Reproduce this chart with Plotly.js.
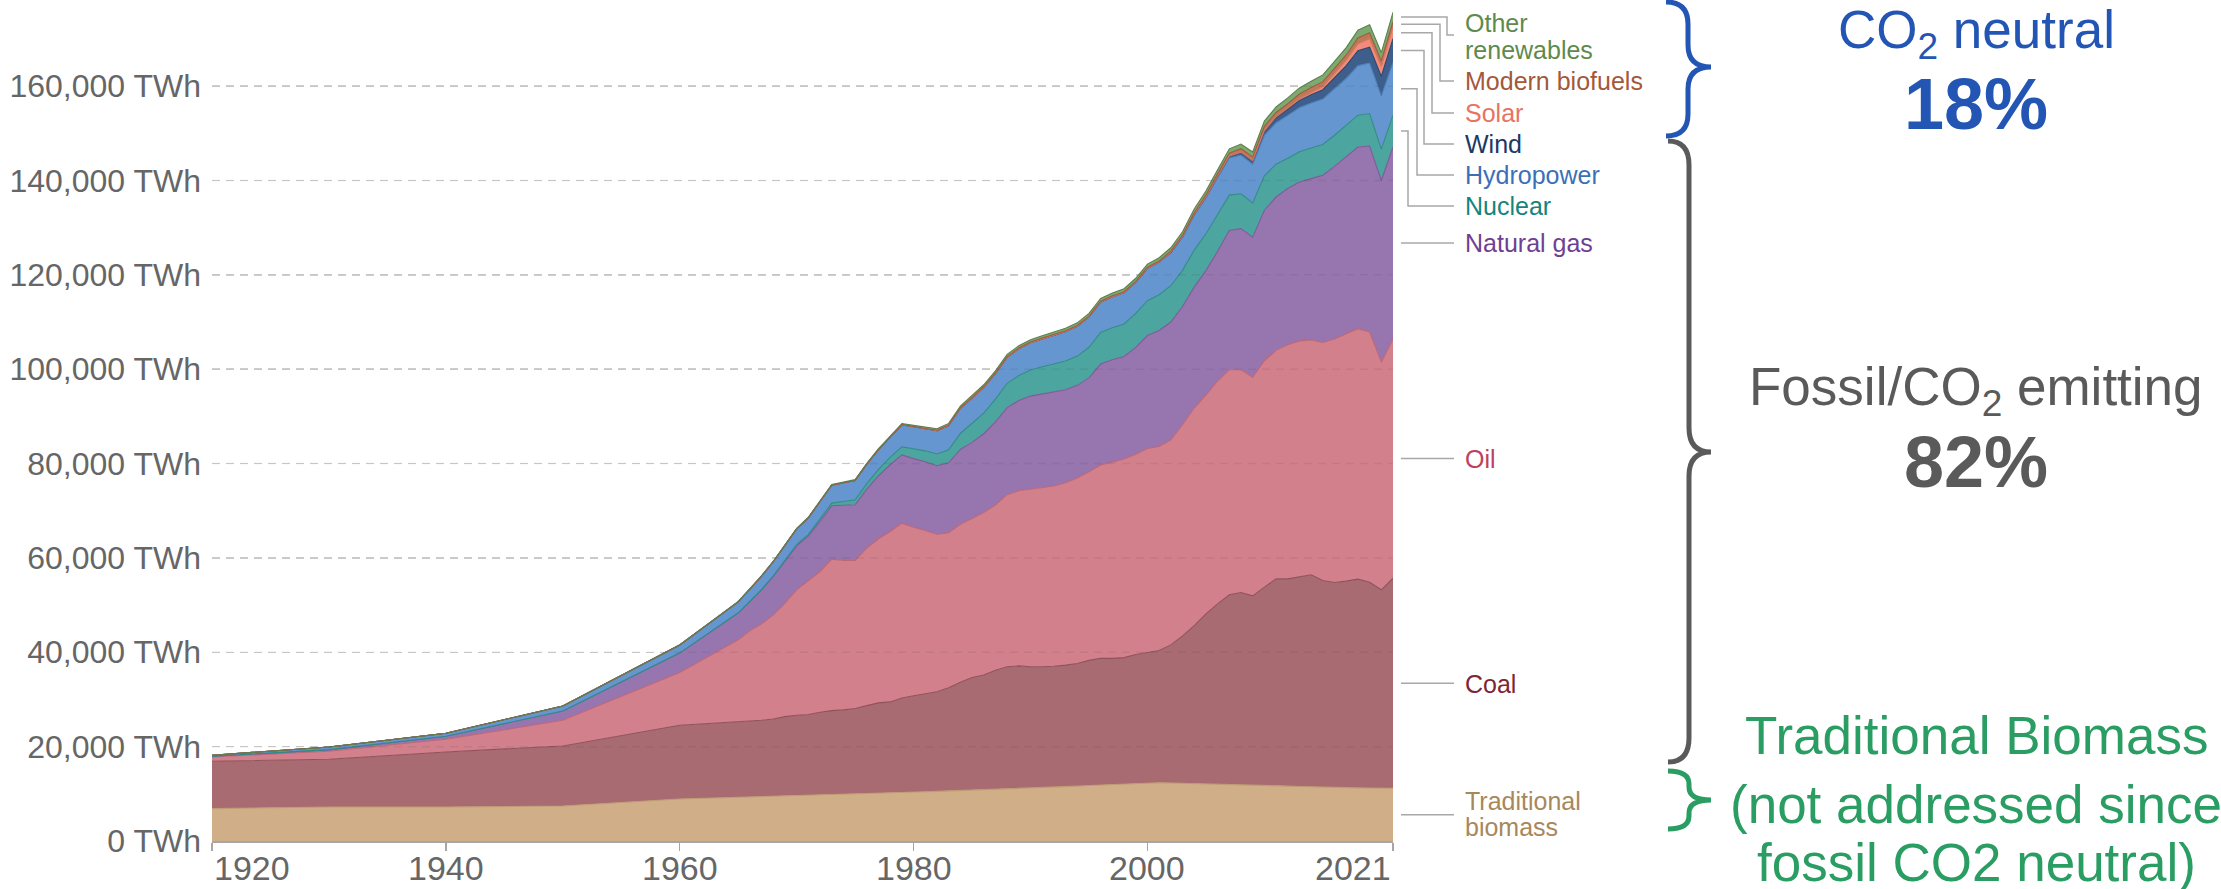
<!DOCTYPE html>
<html>
<head>
<meta charset="utf-8">
<script src="https://cdn.plot.ly/plotly-3.0.1.min.js"></script>
<style>
html,body{margin:0;padding:0;background:#ffffff;}
#chart{width:2221px;height:889px;}
</style>
</head>
<body>
<div id="chart"></div>
<script>
// ---------------- DATA (TWh) ----------------
const years = [1920,1930,1940,1950,1960,
  1965,1966,1967,1968,1969,1970,1971,1972,1973,1974,1975,1976,1977,1978,1979,
  1980,1981,1982,1983,1984,1985,1986,1987,1988,1989,1990,1991,1992,1993,1994,
  1995,1996,1997,1998,1999,2000,2001,2002,2003,2004,2005,2006,2007,2008,2009,
  2010,2011,2012,2013,2014,2015,2016,2017,2018,2019,2020,2021];

const traditionalBiomass = [6860,7210,7210,7420,8910,
  9240,9300,9370,9440,9510,9580,9650,9720,9790,9860,9930,10000,10070,10150,10250,
  10360,10440,10520,10600,10680,10760,10840,10920,11000,11080,11150,11270,11390,11510,11630,
  11750,11870,11990,12110,12230,12370,12340,12300,12250,12180,12090,12030,11970,11910,11860,
  11800,11720,11640,11560,11470,11380,11340,11300,11260,11220,11190,11170];

const coal = [10040,10110,11670,12730,15620,
  16000,16220,16220,16430,16860,17070,17150,17570,17850,17930,18140,18700,19200,19330,20080,
  20440,20840,21130,21890,22990,23910,24340,25260,25940,26030,25790,25670,25640,25770,25980,
  26530,26830,26710,26760,27310,27630,28030,29270,31230,33490,36060,38240,40210,40760,40100,
  42000,43850,43930,44500,44950,43840,43450,43780,44240,43640,42050,44540];

const oil = [920,1700,2680,5440,11170,
  17400,19020,20440,22070,24040,26590,28420,29840,32100,31670,31390,33370,34780,36130,37050,
  35700,34520,33380,32880,33460,33710,34460,35050,36470,37140,37650,38070,38230,38650,39330,
  40000,41010,41600,42090,42430,43200,43270,43480,44750,46100,46350,47230,47720,47230,46340,
  48000,48430,49630,49940,49780,50480,51610,52420,53100,53040,48260,50690];

const naturalGas = [150,350,640,1980,4170,
  5660,6220,7210,8130,8840,9330,9470,10600,11310,11660,11810,12520,13370,14140,14450,
  14550,14600,14500,14800,15850,16110,16690,17620,18460,19120,19710,19710,19960,19730,19640,
  19880,21390,21710,21730,22650,23930,24560,24950,25070,25630,26400,27500,29500,29900,29700,
  31900,32500,33100,33700,34200,35400,36600,37500,38500,39400,38500,40700];

const nuclear = [0,0,0,0,10,
  70,90,100,130,160,230,320,500,570,850,1060,1150,1350,1550,1700,
  2100,2300,2500,2750,3400,4000,4350,4800,5150,5300,5550,5800,5900,6100,6200,
  6500,6700,6800,6900,7200,7400,7600,7700,7650,7850,7800,7800,7500,7400,7250,
  7300,6950,6400,6400,6500,6550,6600,6650,6750,6900,6650,6750];

const hydropower = [200,570,640,1040,1660,
  2320,2550,2800,3000,3250,3350,3500,3650,3800,3950,4100,4150,4200,4300,4700,
  4650,4750,4950,5150,5300,5400,5450,5400,5500,5650,5750,5900,6000,6200,6300,
  6400,6400,6500,6600,6550,6800,6850,6950,7000,7400,7600,7800,7850,8200,8200,
  8600,8800,9100,9350,9550,9600,9900,10000,10500,10700,11300,11200];

const wind = [0,0,0,0,0,
  0,0,0,0,0,0,0,0,0,0,0,0,0,0,0,
  0,0,0,0,0,5,5,5,8,10,10,12,15,15,20,
  22,30,40,55,70,85,100,140,170,220,270,340,440,570,710,
  890,1100,1300,1540,1710,2000,2330,2700,3150,3350,4100,5000];

const solar = [0,0,0,0,0,
  0,0,0,0,0,0,0,0,0,0,0,0,0,0,0,
  0,0,0,0,0,0,0,0,0,0,0,0,0,0,0,
  0,0,0,0,0,3,4,5,6,8,12,15,20,35,55,
  90,170,260,360,490,650,850,1150,1500,1800,2150,2500];

const modernBiofuels = [0,0,0,0,0,
  0,0,0,0,0,0,0,0,0,0,0,5,10,20,40,
  60,80,100,120,140,150,150,150,150,150,160,170,170,170,175,
  180,190,200,190,190,190,200,230,270,300,350,450,580,740,800,
  900,900,910,970,1040,1060,1070,1110,1220,1280,1150,1100];

const otherRenewables = [0,0,0,10,40,
  80,85,90,95,100,110,120,130,140,150,160,170,180,200,220,
  240,270,300,330,370,400,420,440,460,480,500,510,520,540,550,
  570,590,610,630,650,670,690,720,750,790,830,870,920,970,1020,
  1100,1160,1230,1300,1360,1430,1490,1560,1630,1700,1760,2000];

const seriesNames = ["Traditional biomass","Coal","Oil","Natural gas","Nuclear",
  "Hydropower","Wind","Solar","Modern biofuels","Other renewables"];
const seriesValues = [traditionalBiomass, coal, oil, naturalGas, nuclear,
  hydropower, wind, solar, modernBiofuels, otherRenewables];

const xTickYears = [1920, 1940, 1960, 1980, 2000, 2021];
const yGridValues = [20000, 40000, 60000, 80000, 100000, 120000, 140000, 160000];

// ---------------- STYLE ----------------
const FONT = "Liberation Sans, Arial, Helvetica, sans-serif";
const fillColors = ["#cfae88","#a86b71","#d3808d","#9775ae","#4da59f",
  "#6596cf","#3e5f8c","#f08c79","#bd7a58","#7daa6e"];
const lineColors = ["#bf9c72","#8f525a","#bf6676","#7e5a98","#2f8c85",
  "#4a7cb8","#2b4670","#d9725f","#9c5c3e","#5d7f51"];
const labelColors = ["#a8875b","#7d2536","#bd405e","#6f3f93","#14857e",
  "#3b6fb8","#1c3966","#e67461","#a4583a","#5e8a4d"];

// plot-area geometry in pixels
const L = 212, R = 828, T = 5, B = 48;
const PW = 2221 - L - R, PH = 889 - T - B;
const Y_MAX = 177200;
const px = x => (x - L) / PW;          // pixel x -> paper
const py = y => (889 - B - y) / PH;    // pixel y -> paper
const pyToVal = y => (889 - B - y) / PH * Y_MAX;

// label layout (pixel centres) and connector knee x for each series
const labelLines = [
  [["Traditional", 801], ["biomass", 827]],
  [["Coal", 684]],
  [["Oil", 459]],
  [["Natural gas", 243]],
  [["Nuclear", 206]],
  [["Hydropower", 175]],
  [["Wind", 144]],
  [["Solar", 113]],
  [["Modern biofuels", 81]],
  [["Other", 23], ["renewables", 50]]
];
const connectorEndY = [814, 684, 459, 243, 206, 175, 144, 113, 81, 35];
const connectorKneeX = [null, null, null, null, 1408, 1417, 1424, 1432, 1440, 1447];

// ---------------- TRACES ----------------
const traces = seriesNames.map((name, i) => ({
  x: years, y: seriesValues[i], name: name,
  type: "scatter", mode: "lines", stackgroup: "one",
  line: {color: lineColors[i], width: 1.1},
  fillcolor: fillColors[i], hoverinfo: "skip", showlegend: false
}));

// ---------------- ANNOTATIONS / SHAPES ----------------
const annotations = [];
const shapes = [];

// faint dashed grid drawn over the areas (as in the reference)
yGridValues.forEach(v => {
  shapes.push({type: "line", xref: "paper", yref: "y", x0: 0, x1: 1, y0: v, y1: v,
    layer: "above", line: {color: "rgba(60,60,60,0.10)", width: 1.5, dash: "8px,6px"}});
});

// x tick labels
xTickYears.forEach((yr, k) => {
  annotations.push({
    x: yr, xref: "x", y: 0, yref: "paper", yshift: -27,
    xanchor: k === 0 ? "left" : (k === xTickYears.length - 1 ? "right" : "center"),
    yanchor: "middle", showarrow: false, text: String(yr),
    font: {family: FONT, size: 34, color: "#666666"}
  });
});

// series labels and connectors
const lastIdx = years.length - 1;
let cum = 0;
seriesNames.forEach((name, i) => {
  const v = seriesValues[i][lastIdx];
  const mid = cum + v / 2;
  cum += v;
  labelLines[i].forEach(([txt, yc]) => {
    annotations.push({
      x: px(1463), xref: "paper", y: py(yc), yref: "paper",
      xanchor: "left", yanchor: "middle", showarrow: false, text: txt,
      font: {family: FONT, size: 25, color: labelColors[i]}
    });
  });
  const endVal = pyToVal(connectorEndY[i]);
  let path;
  if (connectorKneeX[i] === null) {
    path = `M ${px(1401)},${mid} L ${px(1454)},${mid}`;
  } else {
    const kx = px(connectorKneeX[i]);
    path = `M ${px(1401)},${mid} L ${kx},${mid} L ${kx},${endVal} L ${px(1454)},${endVal}`;
  }
  shapes.push({type: "path", xref: "paper", yref: "y", path: path,
    line: {color: "#a8a8a8", width: 1.5}});
});

// curly braces
function brace(x0, xs, xt, ytop, ymid, ybot, r, color) {
  const p = (x, y) => `${px(x)},${py(y)}`;
  const d = `M ${p(x0, ytop)} Q ${p(xs, ytop)} ${p(xs, ytop + r)} L ${p(xs, ymid - r)} ` +
            `Q ${p(xs, ymid)} ${p(xt, ymid)} Q ${p(xs, ymid)} ${p(xs, ymid + r)} ` +
            `L ${p(xs, ybot - r)} Q ${p(xs, ybot)} ${p(x0, ybot)}`;
  shapes.push({type: "path", xref: "paper", yref: "paper", path: d,
    line: {color: color, width: 5}});
}
const BLUE = "#2356b4", GREY = "#5a5a5a", GREEN = "#2a9d63";
brace(1666, 1688, 1711, 2, 67, 136, 22, BLUE);
brace(1668, 1689, 1711, 141, 452, 762, 24, GREY);
brace(1668, 1689, 1711, 771, 800, 829, 13, GREEN);

const CX = px(1976);
function bigText(text, yc, size, color) {
  annotations.push({x: CX, xref: "paper", y: py(yc), yref: "paper",
    xanchor: "center", yanchor: "middle", showarrow: false, text: text,
    font: {family: FONT, size: size, color: color}});
}
bigText("CO<sub>2</sub> neutral", 34, 53, BLUE);
bigText("<b>18%</b>", 104, 72, BLUE);
bigText("Fossil/CO<sub>2</sub> emitting", 390, 53, GREY);
bigText("<b>82%</b>", 462, 72, GREY);
bigText("Traditional Biomass", 735, 53, GREEN);
bigText("(not addressed since", 804, 53, GREEN);
bigText("fossil CO2 neutral)", 862, 53, GREEN);

// ---------------- LAYOUT ----------------
const layout = {
  width: 2221, height: 889,
  margin: {l: L, r: R, t: T, b: B, pad: 0},
  paper_bgcolor: "#ffffff", plot_bgcolor: "#ffffff",
  showlegend: false,
  font: {family: FONT, color: "#666666"},
  xaxis: {
    range: [1920, 2021], showgrid: false, zeroline: false,
    showline: true, linecolor: "#a6a6a6", linewidth: 1.5,
    ticks: "outside", ticklen: 8, tickwidth: 1.5, tickcolor: "#a6a6a6",
    tickmode: "array", tickvals: xTickYears, showticklabels: false,
    fixedrange: true
  },
  yaxis: {
    range: [0, Y_MAX], tickmode: "linear", tick0: 0, dtick: 20000,
    tickformat: ",d", ticksuffix: " TWh",
    showgrid: true, gridcolor: "#d6d6d6", gridwidth: 1.5, griddash: "8px,6px",
    zeroline: false, showline: false, ticks: "",
    ticklabelstandoff: 10,
    tickfont: {family: FONT, size: 32, color: "#666666"},
    fixedrange: true
  },
  annotations: annotations,
  shapes: shapes
};

Plotly.newPlot("chart", traces, layout, {displayModeBar: false, staticPlot: true});
</script>
</body>
</html>
